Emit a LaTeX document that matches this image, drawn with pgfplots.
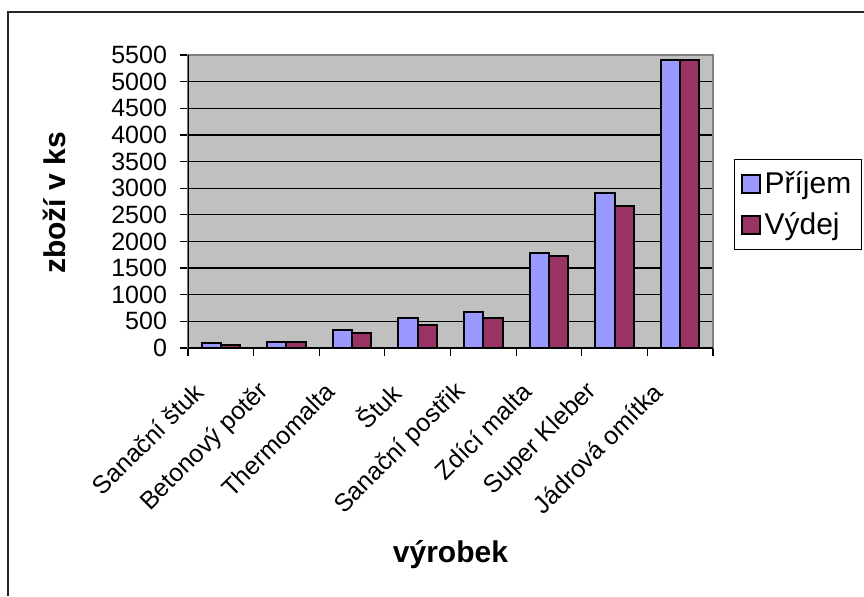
\documentclass[border=0pt]{standalone}
\usepackage{fontspec}
\setmainfont{Liberation Sans}
\usepackage{pgfplots}
\pgfplotsset{compat=1.18}
\definecolor{prijem}{HTML}{9999FF}
\definecolor{vydej}{HTML}{993366}
\definecolor{plotbg}{HTML}{C0C0C0}
\begin{document}
\begin{tikzpicture}
\useasboundingbox (0,0) rectangle (432pt,298pt);
% chart frame (left and top edges)
\draw[line width=0.7pt, black!85] (4pt,0) -- (4pt,292pt) -- (432pt,292pt);
\begin{axis}[
  at={(94pt,124pt)}, anchor=south west,
  scale only axis, width=262.5pt, height=146.5pt,
  ybar=0pt, bar width=0.294,
  xmin=-0.5, xmax=7.5, ymin=0, ymax=5500,
  ytick={0,500,...,5500},
  scaled y ticks=false,
  /pgf/number format/1000 sep={},
  /pgf/number format/assume math mode=true,
  xtick={-0.5,0.5,...,7.5}, xticklabels={},
  extra x ticks={0,1,2,3,4,5,6,7},
  extra x tick labels={Sanační štuk,Betonový potěr,Thermomalta,Štuk,Sanační postřik,Zdící malta,Super Kleber,Jádrová omítka},
  extra x tick style={tick style={draw=none},
    xticklabel style={font=\fontsize{12.5}{15}\selectfont, rotate=45, anchor=east, xshift=-15.5pt, yshift=-3.4pt}},
  tick align=outside, tick pos=left,
  major tick length=4pt,
  tick style={black, line width=0.6pt},
  yticklabel style={font=\fontsize{12.5}{15}\selectfont, xshift=-3pt},
  ymajorgrids, major grid style={black, line width=0.6pt},
  axis background/.style={fill=plotbg},
  axis line style={draw=gray, line width=0.8pt},
  xlabel={výrobek},
  ylabel={zboží v ks},
  xlabel style={at={(axis description cs:0.5,-0.7065)}, anchor=center, font=\bfseries\fontsize{15}{18}\selectfont},
  ylabel style={at={(axis description cs:-0.254,0.495)}, anchor=center, font=\bfseries\fontsize{15}{18}\selectfont},
  legend style={at={(axis description cs:1.04,0.645)}, anchor=north west,
    draw=black, line width=0.6pt, fill=white,
    font=\fontsize{15}{18}\selectfont, row sep=4pt, inner xsep=3pt, inner ysep=4pt,
    cells={anchor=west}},
  legend image code/.code={\draw[#1] (0pt,-4.5pt) rectangle (9pt,4.5pt);},
]
\addplot[fill=prijem, draw=black, line width=1pt] coordinates {
  (0,100) (1,115) (2,330) (3,570) (4,680) (5,1790) (6,2910) (7,5410)};
\addplot[fill=vydej, draw=black, line width=1pt] coordinates {
  (0,60) (1,115) (2,280) (3,430) (4,565) (5,1720) (6,2675) (7,5400)};
\legend{Příjem,Výdej}
% value and category axes drawn in black over the grey plot frame
\draw[black, line width=0.8pt] (rel axis cs:0,1) -- (rel axis cs:0,0) -- (rel axis cs:1,0);
\end{axis}
\end{tikzpicture}
\end{document}
